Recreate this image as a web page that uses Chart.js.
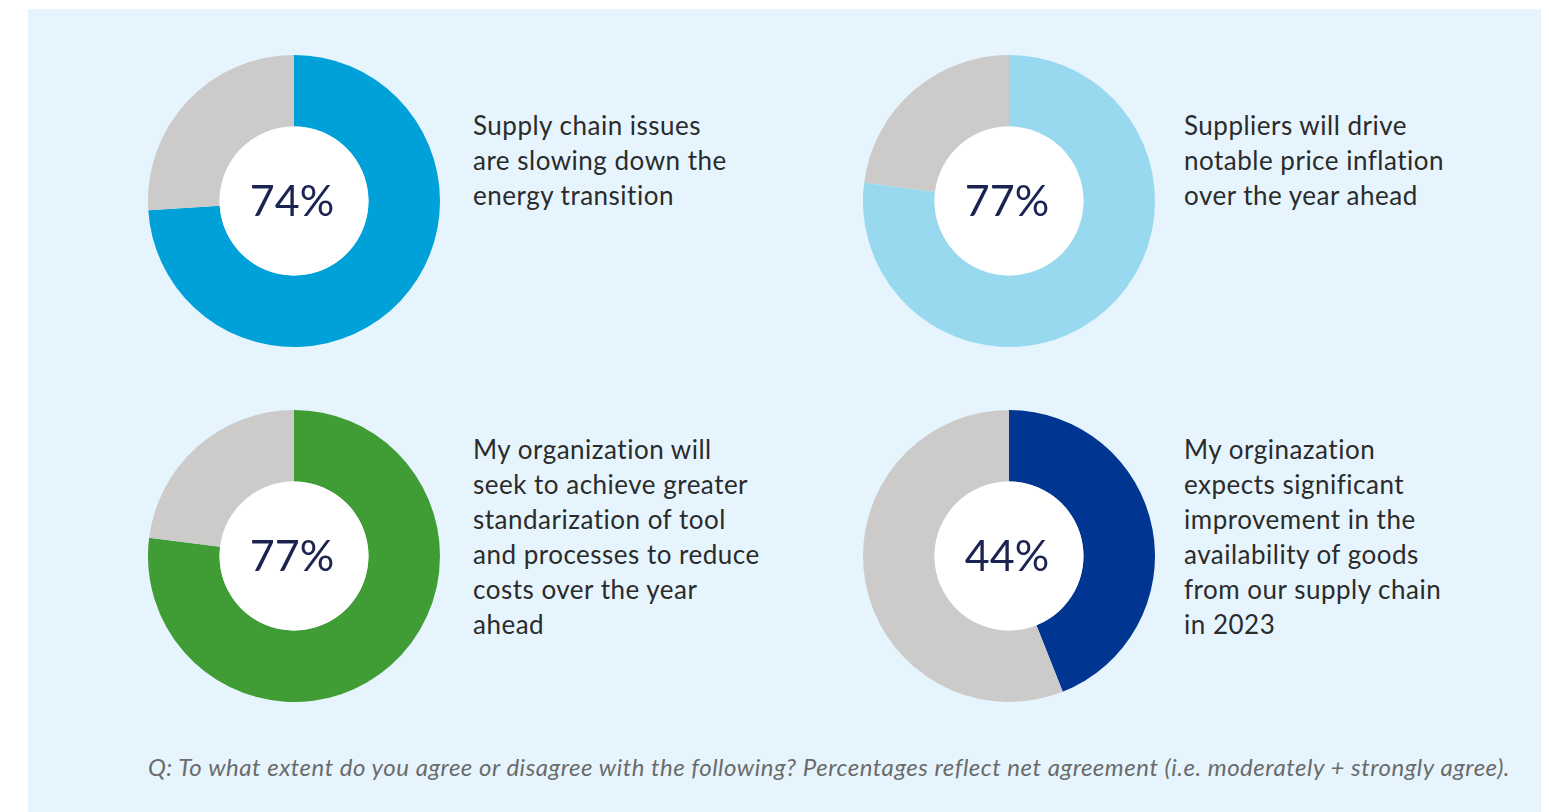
<!DOCTYPE html>
<html>
<head>
<meta charset="utf-8">
<script src="https://cdn.jsdelivr.net/npm/chart.js@4/dist/chart.umd.min.js"></script>
<style>
  html, body { margin: 0; padding: 0; background: #ffffff; width: 1549px; height: 812px; overflow: hidden; }
  #panel { position: absolute; left: 28px; top: 9px; width: 1513px; height: 803px; background: #e6f5fd; }
  .donut { position: absolute; width: 292px; height: 292px; }
  .label { position: absolute; font-family: Lato, "Noto Sans", sans-serif; font-size: 26px; letter-spacing: 0.5px; line-height: 35px; color: #2b2b2b; white-space: pre-line; }
  #note { position: absolute; right: 39px; top: 752px; font-family: Lato, "Noto Sans", sans-serif; font-style: italic; font-size: 24px; letter-spacing: 0.52px; color: #6b6b6b; white-space: nowrap; }
</style>
</head>
<body>
<div id="panel"></div>
<div id="note"></div>
<script>
// Statements and net agreement shares
const statements = [
  "Supply chain issues\nare slowing down the\nenergy transition",
  "Suppliers will drive\nnotable price inflation\nover the year ahead",
  "My organization will\nseek to achieve greater\nstandarization of tool\nand processes to reduce\ncosts over the year\nahead",
  "My orginazation\nexpects significant\nimprovement in the\navailability of goods\nfrom our supply chain\nin 2023"
];
const agreePct = [74, 77, 77, 44];
const restPct = agreePct.map(v => 100 - v);
const agreeColors = ["#00a0d9", "#99d9f0", "#409c35", "#003591"];
const restColor = "#cccbca";
const noteText = "Q: To what extent do you agree or disagree with the following? Percentages reflect net agreement (i.e. moderately + strongly agree).";

// Layout of the 2x2 grid: donut centres and label anchors
const centres = [[293.5, 201], [1008.5, 201], [293.5, 555.5], [1008.5, 555.5]];
const labelPos = [[473, 108], [1184, 108], [473, 432], [1184, 432]];
const R = 146;

document.getElementById('note').textContent = noteText;

// White hole with the value written in the middle
const centreText = {
  id: 'centreText',
  afterDatasetsDraw(chart) {
    const arc = chart.getDatasetMeta(0).data[0];
    if (!arc) return;
    const ctx = chart.ctx;
    ctx.save();
    ctx.beginPath();
    ctx.arc(arc.x, arc.y, arc.innerRadius, 0, Math.PI * 2);
    ctx.fillStyle = '#ffffff';
    ctx.fill();
    ctx.fillStyle = '#1b2350';
    ctx.font = '43px Lato, "Noto Sans", sans-serif';
    ctx.textAlign = 'center';
    ctx.textBaseline = 'middle';
    ctx.fillText(chart.data.datasets[0].data[0] + '%', arc.x - 2, arc.y + 1);
    ctx.restore();
  }
};

agreePct.forEach((v, i) => {
  const wrap = document.createElement('div');
  wrap.className = 'donut';
  wrap.style.left = (centres[i][0] - R) + 'px';
  wrap.style.top = (centres[i][1] - R) + 'px';
  const cv = document.createElement('canvas');
  wrap.appendChild(cv);
  document.body.appendChild(wrap);

  const lab = document.createElement('div');
  lab.className = 'label';
  lab.style.left = labelPos[i][0] + 'px';
  lab.style.top = labelPos[i][1] + 'px';
  lab.textContent = statements[i];
  document.body.appendChild(lab);

  new Chart(cv, {
    type: 'doughnut',
    data: {
      labels: ['Agree', 'Other'],
      datasets: [{
        data: [v, restPct[i]],
        backgroundColor: [agreeColors[i], restColor],
        borderWidth: 0,
        hoverOffset: 0
      }]
    },
    options: {
      responsive: true,
      maintainAspectRatio: false,
      animation: false,
      events: [],
      cutout: '51%',
      layout: { padding: 0 },
      plugins: { legend: { display: false }, tooltip: { enabled: false } }
    },
    plugins: [centreText]
  });
});
</script>
</body>
</html>
